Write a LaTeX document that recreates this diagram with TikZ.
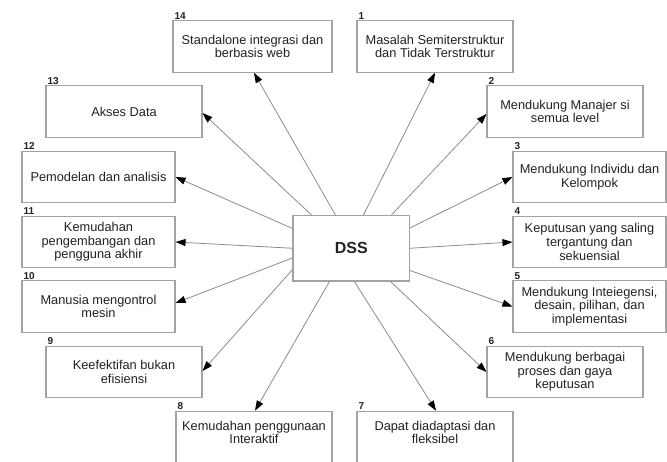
\documentclass[tikz,border=0pt]{standalone}
\usepackage{fontspec}
\setmainfont{Liberation Sans}
\usetikzlibrary{arrows.meta}
\definecolor{boxline}{HTML}{A3A3A3}
\definecolor{linkline}{HTML}{8C8C8C}
\definecolor{ink}{HTML}{222222}
\tikzset{
  item/.style={draw=boxline, line width=1.1pt, fill=white, minimum width=156pt,
    minimum height=51.5pt, inner sep=0pt, align=center, text=ink,
    font=\fontsize{12.8}{13.6}\selectfont},
  narrow/.style={item, minimum width=153pt},
  lowcut/.style={item, text depth=9pt},
  core/.style={draw=boxline, line width=1.1pt, fill=white, minimum width=116.5pt,
    minimum height=65.5pt, inner sep=0pt, text=ink,
    font=\fontsize{16}{18}\selectfont\bfseries},
  tag/.style={anchor=south west, inner sep=0pt, text=ink, xshift=2pt, yshift=0.6pt,
    font=\fontsize{10}{12}\selectfont\bfseries},
  link/.style={draw=linkline, line width=0.8pt,
    -{Triangle[length=10pt, width=7pt, color=black]}}
}
\begin{document}
\begin{tikzpicture}[x=1pt, y=-1pt]
\useasboundingbox[fill=white] (0,0) rectangle (667,461);

% central box
\node[core] (dss) at (351.25,248.25) {DSS};

% right-hand column
\node[item]   (b1) at (435,46.5)    {Masalah Semiterstruktur\\dan Tidak Terstruktur};
\node[item]   (b2) at (565,111.5)   {Mendukung Manajer si\\semua level};
\node[narrow] (b3) at (589.5,177)   {Mendukung Individu dan\\Kelompok};
\node[narrow] (b4) at (589.5,242)   {Keputusan yang saling\\tergantung dan\\sekuensial};
\node[narrow] (b5) at (589.5,306.5) {Mendukung Inteiegensi,\\desain, pilihan, dan\\implementasi};
\node[item]   (b6) at (565,372)     {Mendukung berbagai\\proses dan gaya\\keputusan};
\node[lowcut] (b7) at (435,437)     {Dapat diadaptasi dan\\fleksibel};

% left-hand column
\node[lowcut] (b8)  at (254,437)    {Kemudahan penggunaan\\Interaktif};
\node[item]   (b9)  at (124,372)    {Keefektifan bukan\\efisiensi};
\node[narrow] (b10) at (98.5,306.5) {Manusia mengontrol\\mesin};
\node[narrow] (b11) at (98.5,242)   {Kemudahan\\pengembangan dan\\pengguna akhir};
\node[narrow] (b12) at (98.5,177)   {Pemodelan dan analisis};
\node[item]   (b13) at (124,111.5)  {Akses Data};
\node[item, minimum width=159pt] (b14) at (252.5,46.5) {Standalone integrasi dan\\berbasis web};

% numbers above the boxes
\foreach \i in {1,...,14} {
  \node[tag] (n\i) at (b\i.north west) {\i};
}

% connectors from the central box
\draw[link] ([xshift=71pt]dss.north west)  -- (b1.south);
\draw[link] ([xshift=99pt]dss.north west)  -- ([yshift=-2.5pt]b2.west);
\draw[link] ([yshift=-13pt]dss.north east) -- (b3.west);
\draw[link] (dss.east)                     -- (b4.west);
\draw[link] ([yshift=11pt]dss.south east)  -- (b5.west);
\draw[link] ([xshift=-19.5pt]dss.south east) -- (b6.west);
\draw[link] ([xshift=62pt]dss.south west)  -- ([xshift=1pt]b7.north);
\draw[link] ([xshift=37pt]dss.south west)  -- ([xshift=1pt]b8.north);
\draw[link] ([yshift=12pt]dss.south west)  -- ([yshift=1pt]b9.east);
\draw[link] ([yshift=-43pt]dss.north west) -- ([yshift=3.5pt]b10.east);
\draw[link] (dss.west)                     -- (b11.east);
\draw[link] ([yshift=-13.5pt]dss.north west) -- (b12.east);
\draw[link] ([xshift=19pt]dss.north west)  -- ([yshift=-1.5pt]b13.east);
\draw[link] ([xshift=43pt]dss.north west)  -- ([xshift=1.5pt]b14.south);
\end{tikzpicture}
\end{document}
